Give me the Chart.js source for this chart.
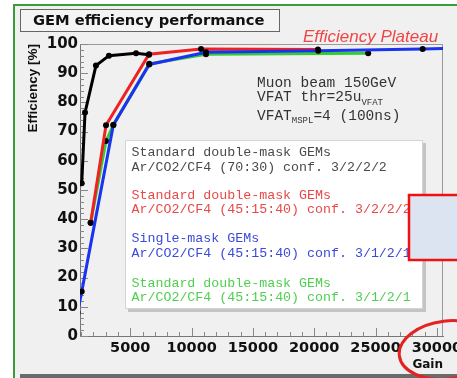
<!DOCTYPE html>
<html>
<head>
<meta charset="utf-8">
<script src="https://cdn.jsdelivr.net/npm/chart.js@4.4.1/dist/chart.umd.min.js"></script>
<style>
  html, body { margin: 0; padding: 0; background: #fff; }
  #wrap { width: 457px; height: 378px; }
</style>
</head>
<body>
<div id="wrap"><canvas id="gem" width="457" height="378"></canvas></div>
<script>
// Efficiency (%) vs. gain for each GEM configuration
const blackGain = [1040, 1310, 2200, 3260, 5470, 6530];
const blackEff = [52.3, 76.5, 92.6, 96.0, 96.8, 96.3];

const redGain = [1770, 3020, 6530, 10770, 20300];
const redEff = [38.8, 72.2, 96.5, 98.3, 98.1];

const blueGain = [700, 1040, 3620, 6550, 11170, 20330, 28840, 31500];
const blueEff = [8.0, 15.2, 72.3, 93.0, 97.2, 97.7, 98.3, 98.6];

const greenGain = [1770, 3020, 3620, 6550, 11170, 24400];
const greenEff = [38.8, 66.8, 72.3, 93.2, 96.5, 96.8];

const gainTicks = [5000, 10000, 15000, 20000, 25000, 30000];
const effTicks = [0, 10, 20, 30, 40, 50, 60, 70, 80, 90, 100];

const seriesNames = [
  "Standard double-mask GEMs",
  "Standard double-mask GEMs",
  "Single-mask GEMs",
  "Standard double-mask GEMs"
];
const seriesGas = [
  "Ar/CO2/CF4 (70:30) conf. 3/2/2/2",
  "Ar/CO2/CF4 (45:15:40) conf. 3/2/2/2",
  "Ar/CO2/CF4 (45:15:40) conf. 3/1/2/1",
  "Ar/CO2/CF4 (45:15:40) conf. 3/1/2/1"
];
const lineColors = ["#000000", "#ee2222", "#1a33ee", "#33cc33"];
const textColors = ["#4a4a4a", "#e84848", "#3d4ad8", "#4fcf4f"];

function pts(gx, ey) {
  return gx.map((g, i) => ({ x: g, y: ey[i] }));
}

function series(idx, gx, ey, order) {
  return {
    label: seriesNames[idx],
    data: pts(gx, ey),
    borderColor: lineColors[idx],
    borderWidth: 3,
    pointRadius: 3,
    pointBackgroundColor: "#000",
    pointBorderWidth: 0,
    tension: 0,
    order: order
  };
}

/* =========================
   PAD, FRAME, TEXT BOXES
========================= */
const padDecor = {
  id: "padDecor",
  beforeDraw(chart) {
    const ctx = chart.ctx;
    ctx.save();
    ctx.fillStyle = "#ffffff";
    ctx.fillRect(0, 0, 457, 378);
    ctx.fillStyle = "#f0f0f0";
    ctx.fillRect(15, 6, 442, 372);
    // green outline of the slide frame
    ctx.fillStyle = "#3a9d3a";
    ctx.fillRect(13, 4, 2, 374);
    ctx.fillRect(13, 4, 444, 2);
    ctx.fillStyle = "#6b6b6b";
    ctx.fillRect(20, 374, 437, 4);
    ctx.restore();
  },
  beforeDatasetsDraw(chart) {
    const { ctx, chartArea: a, scales: { x, y } } = chart;
    ctx.save();
    ctx.lineWidth = 1;
    ctx.strokeStyle = "#9a9a9a";
    ctx.beginPath();
    ctx.moveTo(a.left, a.top + 0.5);
    ctx.lineTo(a.right, a.top + 0.5);
    ctx.moveTo(a.right - 0.5, a.top);
    ctx.lineTo(a.right - 0.5, a.bottom);
    ctx.stroke();

    // tick marks point into the frame
    ctx.strokeStyle = "#888";
    ctx.beginPath();
    for (let v = 0; v <= 100; v += 2) {
      const py = Math.round(y.getPixelForValue(v)) + 0.5;
      const len = v % 10 === 0 ? 8 : 4;
      ctx.moveTo(a.left, py);
      ctx.lineTo(a.left + len, py);
    }
    for (let g = 1000; g <= 30000; g += 1000) {
      const px = Math.round(x.getPixelForValue(g)) + 0.5;
      const len = g % 5000 === 0 ? 8 : 4;
      ctx.moveTo(px, a.bottom);
      ctx.lineTo(px, a.bottom - len);
    }
    ctx.stroke();
    ctx.restore();
  },
  afterDraw(chart) {
    const ctx = chart.ctx;
    ctx.save();
    ctx.textBaseline = "middle";

    // title box
    ctx.fillStyle = "#f4f4f4";
    ctx.fillRect(20.5, 9.5, 259, 22);
    ctx.strokeStyle = "#666";
    ctx.lineWidth = 1;
    ctx.strokeRect(20.5, 9.5, 259, 22);
    ctx.fillStyle = "#111";
    ctx.font = "bold 14.7px 'DejaVu Sans'";
    ctx.fillText("GEM efficiency performance", 33, 21);

    // plateau note
    ctx.fillStyle = "#f04545";
    ctx.font = "italic 17px 'Liberation Sans'";
    ctx.fillText("Efficiency Plateau", 303, 37);

    // run conditions
    const big = "14.5px 'Liberation Mono'";
    const small = "9px 'Liberation Mono'";
    ctx.fillStyle = "#333";
    ctx.font = big;
    ctx.fillText("Muon beam 150GeV", 257, 83);
    let w = ctx.measureText("VFAT thr=25u").width;
    ctx.fillText("VFAT thr=25u", 257, 97.5);
    ctx.font = small;
    ctx.fillText("VFAT", 257 + w, 102.5);
    ctx.font = big;
    w = ctx.measureText("VFAT").width;
    ctx.fillText("VFAT", 257, 116);
    ctx.font = small;
    const ws = ctx.measureText("MSPL").width;
    ctx.fillText("MSPL", 257 + w, 120.5);
    ctx.font = big;
    ctx.fillText("=4 (100ns)", 257 + w + ws, 116);

    // legend box
    ctx.fillStyle = "#c4c4c4";
    ctx.fillRect(128, 143, 298, 169);
    ctx.fillStyle = "#ffffff";
    ctx.fillRect(125, 140, 298, 169);
    ctx.strokeStyle = "#d4d4d4";
    ctx.strokeRect(125.5, 140.5, 297, 168);
    ctx.font = "13.3px 'Liberation Mono'";
    const rows = [152.7, 195, 238.8, 283.3];
    seriesNames.forEach((name, i) => {
      ctx.fillStyle = textColors[i];
      ctx.fillText(name, 131.5, rows[i]);
      ctx.fillText(seriesGas[i], 131.5, rows[i] + 14.5);
    });

    // highlight marks
    ctx.fillStyle = "#dbe4f0";
    ctx.fillRect(409, 195, 60, 65);
    ctx.strokeStyle = "#ee1111";
    ctx.lineWidth = 2.5;
    ctx.strokeRect(409, 195, 60, 65);

    ctx.strokeStyle = "#e52222";
    ctx.lineWidth = 3;
    ctx.beginPath();
    ctx.ellipse(447, 350, 48, 29, -0.12, 0, Math.PI * 2);
    ctx.stroke();
    ctx.restore();
  }
};

new Chart(document.getElementById("gem"), {
  type: "line",
  data: {
    datasets: [
      series(0, blackGain, blackEff, 0),
      series(1, redGain, redEff, 2),
      series(2, blueGain, blueEff, 1),
      series(3, greenGain, greenEff, 3)
    ]
  },
  options: {
    responsive: false,
    animation: false,
    devicePixelRatio: 1,
    layout: { padding: { left: 0, top: 44, right: 14, bottom: 0 } },
    plugins: {
      legend: { display: false },
      tooltip: { enabled: false }
    },
    scales: {
      x: {
        type: "linear",
        min: 900,
        max: 30500,
        grid: { display: true, drawOnChartArea: false, drawTicks: false },
        border: { display: true, color: "#777" },
        afterBuildTicks: (s) => { s.ticks = gainTicks.map(v => ({ value: v })); },
        afterFit: (s) => { s.height = 42; s.paddingLeft = 0; s.paddingRight = 0; },
        ticks: {
          autoSkip: false,
          maxRotation: 0,
          padding: 4,
          color: "#111",
          callback: (v) => String(v),
          font: { family: "DejaVu Sans", weight: "bold", size: 14.5 }
        },
        title: {
          display: true,
          text: "Gain",
          align: "end",
          color: "#111",
          padding: { top: 0, bottom: 6 },
          font: { family: "DejaVu Sans", weight: "bold", size: 12 }
        }
      },
      y: {
        min: 0,
        max: 100,
        grid: { display: true, drawOnChartArea: false, drawTicks: false },
        border: { display: true, color: "#777" },
        afterBuildTicks: (s) => { s.ticks = effTicks.map(v => ({ value: v })); },
        afterFit: (s) => { s.width = 80; s.paddingTop = 0; s.paddingBottom = 0; },
        ticks: {
          autoSkip: false,
          padding: 2,
          color: "#111",
          callback: (v) => String(v),
          font: { family: "DejaVu Sans", weight: "bold", size: 15 }
        },
        title: {
          display: true,
          text: "Efficiency [%]",
          align: "end",
          color: "#111",
          padding: { top: 25, bottom: 0 },
          font: { family: "Liberation Sans", weight: "bold", size: 13.5 }
        }
      }
    }
  },
  plugins: [padDecor]
});
</script>
</body>
</html>
